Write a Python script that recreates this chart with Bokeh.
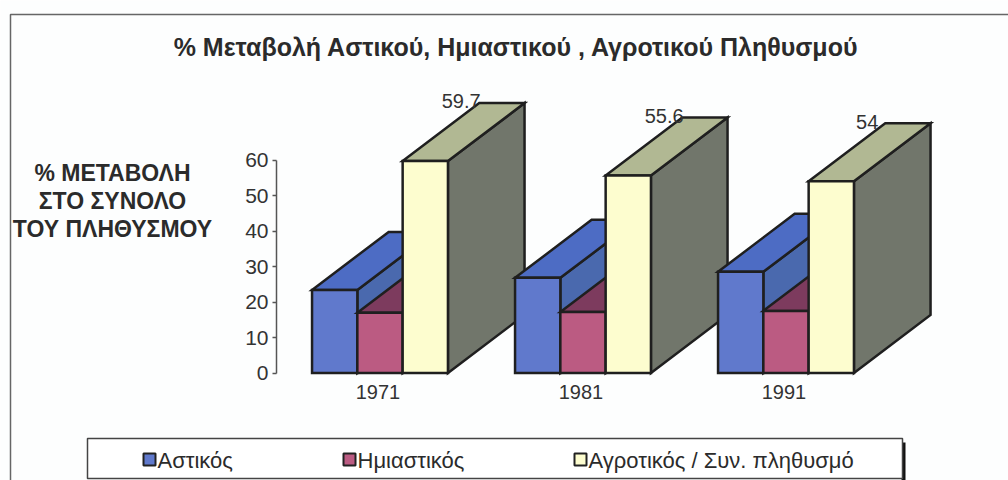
from bokeh.plotting import figure
from bokeh.models import (ColumnDataSource, Range1d, LinearAxis, FixedTicker, Label,
                          BoxAnnotation)
from bokeh.core.properties import value
from bokeh.embed import file_html
from bokeh.resources import INLINE

title = "% Μεταβολή Αστικού, Ημιαστικού , Αγροτικού Πληθυσμού"
ylabel_lines = ["% ΜΕΤΑΒΟΛΗ", "ΣΤΟ ΣΥΝΟΛΟ", "ΤΟΥ ΠΛΗΘΥΣΜΟΥ"]
years = ["1971", "1981", "1991"]
series_names = ["Αστικός", "Ημιαστικός", "Αγροτικός / Συν. πληθυσμό"]
urban = [23.4, 26.8, 28.5]
semi = [17.0, 17.2, 17.5]
rural = [59.7, 55.6, 54.0]
rural_labels = ["59.7", "55.6", "54"]
y_ticks = [0, 10, 20, 30, 40, 50, 60]

FONT = "Liberation Sans"
W, H = 1008, 480
LEFT, BOTTOM = 276, 372.5
PX_X, PX_Y = 203.0, 3.55       # pixels per category, pixels per percent
X0 = 379.5                     # pixel of first category's centre
BAR = 45.3 / PX_X
DX, DY = 76.6 / PX_X, 58.0 / PX_Y

def sx(x):
    return x

def sy(y):
    return H - y

palette = [
    ("#6079cc", "#4d6cc4", "#4a69ae"),
    ("#bb5b82", "#7d3b5e", "#7d3b5e"),
    ("#fdfdcf", "#b1b893", "#71766b"),
]

xs, ys, fills = [], [], []
for g in range(len(years)):
    for s, vals in enumerate((urban, semi, rural)):
        x0 = g + (s - 1.5) * BAR
        x1 = x0 + BAR
        v = vals[g]
        front, top, side = palette[s]
        xs.append([x1, x1 + DX, x1 + DX, x1]); ys.append([0, DY, v + DY, v]); fills.append(side)
        xs.append([x0, x1, x1 + DX, x0 + DX]); ys.append([v, v, v + DY, v + DY]); fills.append(top)
        xs.append([x0, x1, x1, x0]); ys.append([0, 0, v, v]); fills.append(front)

p = figure(width=W, height=H, toolbar_location=None, output_backend="svg",
           x_axis_type=None, y_axis_type=None,
           x_range=Range1d(-X0 / PX_X, (W - X0) / PX_X),
           y_range=Range1d(-(H - BOTTOM) / PX_Y, BOTTOM / PX_Y),
           min_border_left=0, min_border_right=0, min_border_top=0, min_border_bottom=0,
           background_fill_color="#fdfefe", border_fill_color="#fdfefe",
           outline_line_color=None)
p.grid.visible = False

p.patches(xs="xs", ys="ys", fill_color="fill", line_color="#1f1f1f", line_width=2.5,
          line_join="miter", source=ColumnDataSource(dict(xs=xs, ys=ys, fill=fills)))

yaxis = LinearAxis(ticker=FixedTicker(ticks=y_ticks), bounds=(0, 60),
                   fixed_location=(LEFT - X0) / PX_X,
                   axis_line_color="#555555", axis_line_width=1.5,
                   major_tick_line_color="#555555", major_tick_line_width=1.5,
                   major_tick_in=0, major_tick_out=4, minor_tick_line_color=None,
                   major_label_text_font=FONT, major_label_text_font_size="21px",
                   major_label_text_color="#333333", major_label_standoff=4)
p.add_layout(yaxis, "left")

tick_pos = [g - 0.01 for g in range(len(years))]
xaxis = LinearAxis(ticker=FixedTicker(ticks=tick_pos),
                   fixed_location=0,
                   major_label_overrides=dict(zip(tick_pos, years)),
                   axis_line_color=None, major_tick_line_color=None, minor_tick_line_color=None,
                   major_label_text_font=FONT, major_label_text_font_size="20px",
                   major_label_text_color="#333333", major_label_standoff=6)
p.add_layout(xaxis, "below")

p.text(x=[g + 1.5 * BAR + DX - 0.312 for g in range(len(years))],
       y=[v + DY + 0.5 for v in rural], text=rural_labels,
       text_font=value(FONT), text_font_size="20px", text_color="#333333",
       text_align="center", text_baseline="middle")

def box(l, r, t, b, **kw):
    p.add_layout(BoxAnnotation(left=sx(l), right=sx(r), top=sy(t), bottom=sy(b),
                               left_units="screen", right_units="screen",
                               top_units="screen", bottom_units="screen",
                               line_alpha=1, **kw))

def label(x, y, text, size, style="normal", align="center"):
    p.add_layout(Label(x=sx(x), y=sy(y), x_units="screen", y_units="screen", text=text,
                       text_font=FONT, text_font_style=style, text_font_size=size,
                       text_color="#2b2b2b", text_align=align, text_baseline="middle"))

# chart border
box(10, W + 20, 14, H + 20, fill_alpha=0, line_color="#666666", line_width=1.5)

label(516, 46, title, "25px", "bold")
for line, y in zip(ylabel_lines, (172, 200, 228)):
    label(112, y, line, "23px", "bold")

# legend
box(901, 905, 442, 480, fill_color="#111111", fill_alpha=1, line_color=None)
box(87, 902, 438, 478, fill_color="#ffffff", fill_alpha=1, line_color="#444444", line_width=1.5)
for name, x, colors in zip(series_names, (143, 343, 574), palette):
    box(x, x + 12, 453, 465, fill_color=colors[0], fill_alpha=1, line_color="#222222", line_width=2)
    label(x + 14, 460, name, "22px", align="left")

open("out.html", "w").write(file_html(p, INLINE))
